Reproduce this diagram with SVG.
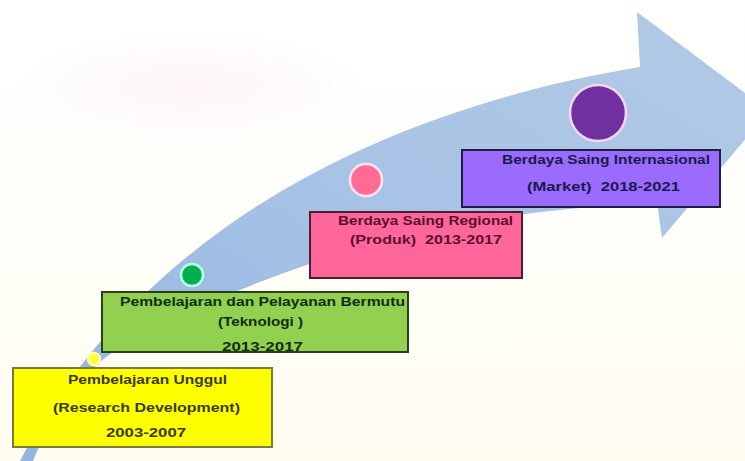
<svg xmlns="http://www.w3.org/2000/svg" width="745" height="461" viewBox="0 0 745 461">
  <defs>
    <linearGradient id="bg" x1="0" y1="0" x2="0" y2="1">
      <stop offset="0" stop-color="#FFFFFF"/>
      <stop offset="0.45" stop-color="#FFFEFA"/>
      <stop offset="1" stop-color="#FFFDF0"/>
    </linearGradient>
    <radialGradient id="pinkGlow" cx="0.5" cy="0.5" r="0.5">
      <stop offset="0" stop-color="#FBE9EE" stop-opacity="0.45"/>
      <stop offset="1" stop-color="#FBE9EE" stop-opacity="0"/>
    </radialGradient>
    <linearGradient id="arrowFill" x1="0" y1="1" x2="1" y2="0">
      <stop offset="0" stop-color="#94B4E2"/>
      <stop offset="0.5" stop-color="#A6C2E5"/>
      <stop offset="1" stop-color="#B3CAE6"/>
    </linearGradient>
    <style>
      .box { stroke-width: 2; }
      .lbl { font-family: "Liberation Sans", Arial, sans-serif; font-weight: bold; font-size: 13px; text-anchor: middle; white-space: pre; }
      .dot { stroke-width: 2.5; }
    </style>
  </defs>

  <!-- background -->
  <rect x="0" y="0" width="745" height="461" fill="url(#bg)"/>
  <ellipse cx="190" cy="85" rx="170" ry="55" fill="url(#pinkGlow)"/>

  <g id="connectors">
    <path id="big-arrow" fill="url(#arrowFill)" stroke="none"
      d="M 20,461 C 140,230 380,110 640,67 L 637,12 L 769,111 L 662,238 L 657,203 C 520,208 380,232 240,290 C 180,315 135,335 105,358 C 75,382 50,420 33,461 Z"/>
  </g>

  <g id="node-yellow">
    <circle class="dot" cx="94" cy="359" r="6" fill="#FFFF33" stroke="#FFFFA8"/>
    <rect class="box" x="13" y="368" width="259" height="79" fill="#FFFF00" stroke="#7A7A3A"/>
    <text class="lbl" fill="#3A3A05" x="147.5" y="384" textLength="159" lengthAdjust="spacingAndGlyphs">Pembelajaran Unggul</text>
    <text class="lbl" fill="#3A3A05" x="146.5" y="412" textLength="187" lengthAdjust="spacingAndGlyphs">(Research Development)</text>
    <text class="lbl" fill="#3A3A05" x="146" y="437" textLength="80" lengthAdjust="spacingAndGlyphs">2003-2007</text>
  </g>

  <g id="node-green">
    <circle class="dot" cx="192" cy="275" r="11" fill="#00B050" stroke="#B8FFE8"/>
    <rect class="box" x="102" y="292" width="306" height="60" fill="#92D050" stroke="#2E3D1E"/>
    <text class="lbl" fill="#0E2E0A" x="262.5" y="306" textLength="285" lengthAdjust="spacingAndGlyphs">Pembelajaran dan Pelayanan Bermutu</text>
    <text class="lbl" fill="#0E2E0A" x="260.5" y="326" textLength="85" lengthAdjust="spacingAndGlyphs">(Teknologi )</text>
    <text class="lbl" fill="#0E2E0A" x="262.5" y="351" textLength="81" lengthAdjust="spacingAndGlyphs">2013-2017</text>
  </g>

  <g id="node-pink">
    <circle class="dot" cx="366" cy="180" r="16" fill="#FF6B95" stroke="#FFE4EC"/>
    <rect class="box" x="310" y="212" width="212" height="66" fill="#FF6699" stroke="#4A2030"/>
    <text class="lbl" fill="#5A1030" x="425.5" y="225" textLength="175" lengthAdjust="spacingAndGlyphs">Berdaya Saing Regional</text>
    <text class="lbl" fill="#5A1030" x="426" y="244" textLength="152" lengthAdjust="spacingAndGlyphs">(Produk)  2013-2017</text>
  </g>

  <g id="node-purple">
    <circle class="dot" cx="598" cy="113" r="28" fill="#7030A0" stroke="#F2D8F2"/>
    <rect class="box" x="462" y="150" width="258" height="57" fill="#9B6BFF" stroke="#1E1E3E"/>
    <text class="lbl" fill="#1A1A4A" x="606" y="164" textLength="208" lengthAdjust="spacingAndGlyphs">Berdaya Saing Internasional</text>
    <text class="lbl" fill="#1A1A4A" x="603.5" y="191" textLength="153" lengthAdjust="spacingAndGlyphs">(Market)  2018-2021</text>
  </g>
</svg>
